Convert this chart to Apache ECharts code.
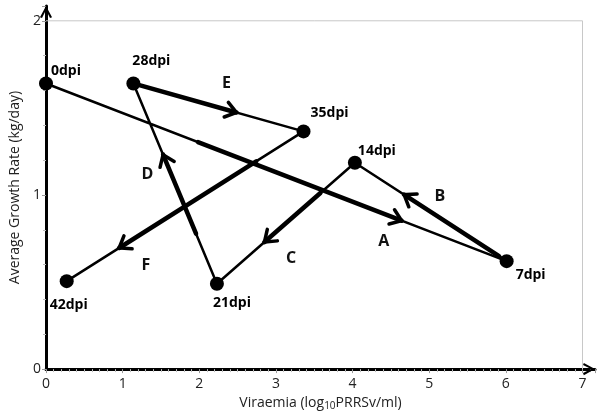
<!DOCTYPE html>
<html>
<head>
<meta charset="utf-8">
<script src="https://cdn.jsdelivr.net/npm/echarts@6/dist/echarts.min.js"></script>
<style>
html,body{margin:0;padding:0;background:#fff;}
#chart{width:598px;height:416px;}
</style>
</head>
<body>
<div id="chart"></div>
<script>
// ---- data ----
const dpiLabels = ['0dpi', '7dpi', '14dpi', '21dpi', '28dpi', '35dpi', '42dpi'];
const viraemia = [0, 6.01, 4.03, 2.23, 1.14, 3.36, 0.27];
const growthRate = [1.64, 0.62, 1.185, 0.49, 1.64, 1.365, 0.505];
const arrowLetters = ['A', 'B', 'C', 'D', 'E', 'F'];
const xTicks = [0, 1, 2, 3, 4, 5, 6, 7];
const yTicks = [0, 1, 2];

// ---- style ----
const X_MAX = xTicks[xTicks.length - 1];
const Y_MAX = yTicks[yTicks.length - 1];
const X_AXIS_END = 7.163;
const Y_AXIS_END = 2.085;
const FONT = 'Open Sans';
// fraction along each edge where the thick arrow segment starts / ends (tip)
const arrowSpan = [[0.33, 0.77], [0.05, 0.67], [0.25, 0.65], [0.25, 0.64], [0.03, 0.6], [0.2, 0.775]];
// pixel offset of each letter from its arrow tip
const letterOffset = [[-17, 21], [35, 1], [26, 17], [-16, 19], [-9, -29], [26, 18]];
// pixel offset of point labels (position: right)
const pointLabelOffset = [[-7, -12], [-3, 14], [-9, -12], [-16, 19], [-13, -22], [-5, -18], [-29, 24]];

const chevron = 'path://M0,12 L6.5,0 L13,12 L10.8,12.9 L6.5,4.2 L2.2,12.9 Z';

const chart = echarts.init(document.getElementById('chart'), null, {renderer: 'canvas'});

const intFmt = v => (Math.abs(v - Math.round(v)) < 1e-6) ? String(Math.round(v)) : '';

const option = {
  animation: false,
  backgroundColor: '#fff',
  grid: {left: 46, right: 3, top: 6, bottom: 44},
  xAxis: {
    type: 'value', min: xTicks[0], max: X_AXIS_END, interval: 1,
    name: 'Viraemia (log{sub|10}PRRSv/ml)',
    nameLocation: 'middle', nameGap: 25,
    nameTextStyle: {
      fontFamily: FONT, fontSize: 14, color: '#222',
      rich: {sub: {fontFamily: FONT, fontSize: 10, color: '#222', verticalAlign: 'bottom', padding: [6, 0, 0, 0]}}
    },
    axisLine: {show: true, lineStyle: {color: '#000', width: 3}, symbol: ['none', chevron], symbolSize: [13, 12], symbolOffset: [0, -6]},
    axisTick: {show: true, length: 4, lineStyle: {color: '#999', width: 1}},
    minorTick: {show: true, splitNumber: 10, length: 3, lineStyle: {color: '#bbb', width: 1}},
    splitLine: {show: false},
    axisLabel: {fontFamily: FONT, fontSize: 14, color: '#222', margin: 8, formatter: intFmt, showMaxLabel: false}
  },
  yAxis: {
    type: 'value', min: yTicks[0], max: Y_AXIS_END, interval: 1,
    name: 'Average Growth Rate (kg/day)',
    nameLocation: 'middle', nameGap: 18,
    nameTextStyle: {fontFamily: FONT, fontSize: 14, color: '#222'},
    axisLine: {show: true, lineStyle: {color: '#000', width: 3}, symbol: ['none', chevron], symbolSize: [13, 12], symbolOffset: [0, -6]},
    axisTick: {show: true, length: 4, lineStyle: {color: '#999', width: 1}},
    minorTick: {show: true, splitNumber: 5, length: 3, lineStyle: {color: '#bbb', width: 1}},
    splitLine: {show: false},
    axisLabel: {fontFamily: FONT, fontSize: 14, color: '#222', margin: 5, formatter: intFmt, showMaxLabel: false}
  },
  series: [
    {
      type: 'custom',
      z: 1,
      silent: true,
      data: [[X_MAX, Y_MAX]],
      renderItem: function (params, api) {
        const a = api.coord([0, api.value(1)]);
        const b = api.coord([api.value(0), api.value(1)]);
        const c = api.coord([api.value(0), 0]);
        return {
          type: 'polyline',
          shape: {points: [a, b, c]},
          style: {stroke: '#c8c8c8', lineWidth: 1, fill: null}
        };
      }
    },
    {
      type: 'line',
      z: 2,
      data: viraemia.map((x, i) => ({
        value: [x, growthRate[i]],
        label: {offset: pointLabelOffset[i]}
      })),
      symbol: 'circle',
      symbolSize: 14,
      itemStyle: {color: '#000'},
      lineStyle: {color: '#000', width: 2.5},
      label: {
        show: true,
        position: 'right',
        distance: 5,
        formatter: p => dpiLabels[p.dataIndex],
        fontFamily: FONT, fontSize: 14, fontWeight: 'bold', color: '#000'
      }
    },
    {
      type: 'custom',
      z: 3,
      silent: true,
      data: arrowLetters.map((l, i) => [viraemia[i], growthRate[i], viraemia[i + 1], growthRate[i + 1]]),
      renderItem: function (params, api) {
        const i = params.dataIndex;
        const p0 = api.coord([api.value(0), api.value(1)]);
        const p1 = api.coord([api.value(2), api.value(3)]);
        const t0 = arrowSpan[i][0], t1 = arrowSpan[i][1];
        const lerp = t => [p0[0] + (p1[0] - p0[0]) * t, p0[1] + (p1[1] - p0[1]) * t];
        const s = lerp(t0), e = lerp(t1);
        const dx = p1[0] - p0[0], dy = p1[1] - p0[1];
        const len = Math.sqrt(dx * dx + dy * dy);
        const ux = dx / len, uy = dy / len;
        const L = 13, ang = 36 * Math.PI / 180;
        const rot = (x, y, a) => [x * Math.cos(a) - y * Math.sin(a), x * Math.sin(a) + y * Math.cos(a)];
        const r1 = rot(-ux, -uy, ang), r2 = rot(-ux, -uy, -ang);
        const tip = [e[0] + ux * 1, e[1] + uy * 1];
        return {
          type: 'group',
          children: [
            {type: 'line', shape: {x1: s[0], y1: s[1], x2: tip[0], y2: tip[1]}, style: {stroke: '#000', lineWidth: 4.5, lineCap: 'round'}},
            {type: 'polyline', shape: {points: [[tip[0] + r1[0] * L, tip[1] + r1[1] * L], tip, [tip[0] + r2[0] * L, tip[1] + r2[1] * L]]},
             style: {stroke: '#000', lineWidth: 3.5, fill: null, lineJoin: 'miter', lineCap: 'round'}},
            {type: 'text', x: e[0] + letterOffset[i][0], y: e[1] + letterOffset[i][1],
             style: {text: arrowLetters[i], fontFamily: FONT, fontSize: 16, fontWeight: 'bold', fill: '#111', align: 'center', verticalAlign: 'middle'}}
          ]
        };
      }
    }
  ]
};
chart.setOption(option);
</script>
</body>
</html>
